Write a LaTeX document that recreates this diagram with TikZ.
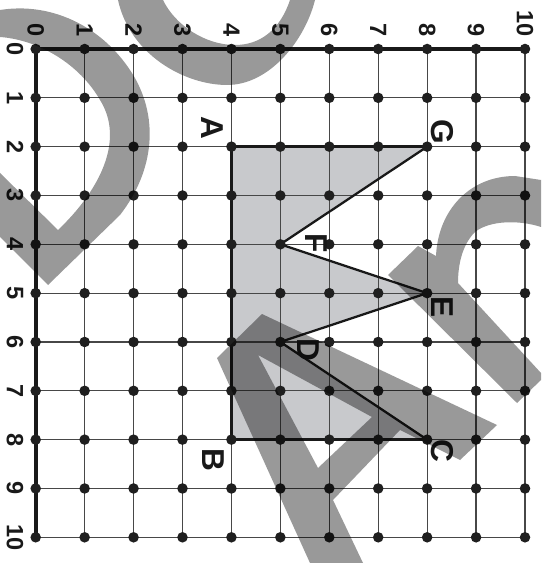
\documentclass[tikz,border=0pt]{standalone}
\usepackage{fontspec}
\setmainfont{Liberation Sans}
\begin{document}
\begin{tikzpicture}[x=0.02cm,y=-0.02cm,
  gridline/.style={line width=0.7pt, black!72},
  axisline/.style={line width=2.4pt, black!90, line cap=round},
  outline/.style={line width=1.6pt, black!90, line join=miter},
  zigline/.style={line width=1.3pt, black!90, line join=miter},
  shadefill/.style={fill={rgb,255:red,200;green,201;blue,204}},
  dot/.style={circle, fill=black!88, inner sep=0pt, minimum size=6pt},
  axlab/.style={font=\bfseries\fontsize{13.4}{14}\selectfont, rotate=-90, inner sep=0pt, text=black!90},
  ptlab/.style={font=\bfseries\fontsize{18}{20}\selectfont, rotate=-90, inner sep=0pt, text=black!90},
  wm/.style={fill=black, fill opacity=0.4}]
\useasboundingbox (0,0) rectangle (541,563);
% grid coordinates
\foreach \i in {0,...,10}{
  \foreach \j in {0,...,10}{
    \pgfmathsetmacro\X{35.7+48.93*\i}
    \pgfmathsetmacro\Y{49+48.83*\j}
    \coordinate (g-\i-\j) at (\X,\Y);
  }
}
% shaded polygon
\fill[shadefill] (g-4-2) -- (g-8-2) -- (g-5-4) -- (g-8-5) -- (g-5-6) -- (g-8-8) -- (g-4-8) -- cycle;
% grid lines
\foreach \i in {0,...,10}{
  \draw[gridline] (g-\i-0) -- (g-\i-10);
  \draw[gridline] (g-0-\i) -- (g-10-\i);
}
% axes
\draw[axisline] (g-10-0) -- (g-0-0) -- (g-0-10);
% polygon outline
\draw[outline] (g-8-2) -- (g-4-2) -- (g-4-8) -- (g-8-8);
\draw[zigline] (g-8-2) -- (g-5-4) -- (g-8-5) -- (g-5-6) -- (g-8-8);
% dots
\foreach \i in {0,...,10}{
  \foreach \j in {0,...,10}{
    \node[dot] (d-\i-\j) at (g-\i-\j) {};
  }
}
% axis labels
\foreach \i in {0,...,10}{
  \pgfmathsetmacro\X{35.7+48.93*\i}
  \pgfmathsetmacro\Y{49+48.83*\i}
  \node[axlab, anchor=east] (ty-\i) at (\X,37) {\i};
  \node[axlab] (tx-\i) at (15,\Y) {\i};
}
% point labels
\node[ptlab] (lA) at (212,128) {A};
\node[ptlab] (lB) at (213,460) {B};
\node[ptlab] (lC) at (442,451) {C};
\node[ptlab] (lD) at (308,350) {D};
\node[ptlab] (lE) at (442,307) {E};
\node[ptlab] (lF) at (316,243) {F};
\node[ptlab] (lG) at (442,132) {G};
% watermark
\fill[wm] (0,10) .. controls (50,2) and (100,25) .. (130,70)
  .. controls (160,115) and (155,170) .. (120,215) -- (48,285) -- (0,237) -- (0,173) -- (58,230)
  .. controls (100,190) and (125,140) .. (100,100)
  .. controls (80,65) and (40,40) .. (0,37) -- cycle;
\fill[wm] (118,0) .. controls (130,55) and (185,85) .. (227,85)
  .. controls (270,85) and (305,40) .. (315,0) -- (290,0)
  .. controls (280,30) and (260,45) .. (235,45)
  .. controls (205,45) and (175,25) .. (163,0) -- cycle;
\fill[wm, even odd rule] (262,314) -- (497,425) -- (460,460) -- (400,430) -- (333,500) -- (363,563) -- (310,563) -- (217,358) -- cycle
  (258,355) -- (372,417) -- (318,468) -- cycle;
\fill[wm] (388,275) -- (418,246) -- (436,256) .. controls (438,210) and (470,176) .. (515,176)
  -- (541,180) -- (541,227) .. controls (520,220) and (490,220) .. (475,232)
  .. controls (462,245) and (458,265) .. (458,283) -- (541,373) -- (541,380) -- (517,403) -- cycle;
\end{tikzpicture}
\end{document}
